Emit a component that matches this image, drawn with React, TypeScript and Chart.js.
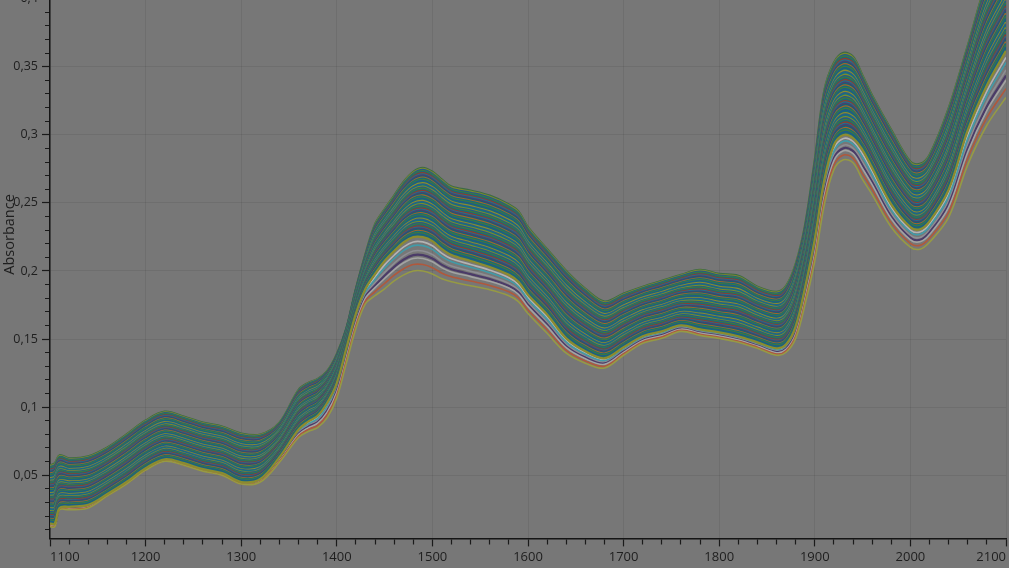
import React, { useEffect, useRef } from 'react';
import { Chart, registerables } from 'chart.js';

Chart.register(...registerables);

// Wavelength grid (nm)
const wavelengths = [
  1100, 1105, 1110, 1120, 1140, 1160, 1180, 1200, 1220, 1240, 1260, 1280, 1300, 1320, 1340,
  1360, 1370, 1380, 1390, 1400, 1410, 1420, 1430, 1440, 1450, 1460, 1470, 1480, 1490, 1500,
  1510, 1520, 1540, 1560, 1580, 1590, 1600, 1620, 1640, 1660, 1680, 1700, 1720, 1740, 1760,
  1780, 1800, 1820, 1840, 1860, 1870, 1880, 1890, 1900, 1910, 1920, 1930, 1940, 1950, 1960,
  1980, 2000, 2010, 2020, 2040, 2060, 2080, 2100,
];

// Upper edge of the spectra bundle (highest spectrum)
const upperEdge = [
  0.0573, 0.0587, 0.0646, 0.0624, 0.0639, 0.0704, 0.0799, 0.0901, 0.0966, 0.093, 0.0886, 0.0857, 0.0806, 0.0799, 0.0886,
  0.1127, 0.1178, 0.1207, 0.1265, 0.1389, 0.1578, 0.1869, 0.2124, 0.2342, 0.2452, 0.2553, 0.2655, 0.2728, 0.2757, 0.2728,
  0.267, 0.2619, 0.259, 0.2553, 0.2488, 0.2437, 0.2321, 0.216, 0.2, 0.1869, 0.1775, 0.1833, 0.1884, 0.1927, 0.1971,
  0.2008, 0.1978, 0.1964, 0.1884, 0.1847, 0.1891, 0.2051, 0.2342, 0.2815, 0.3325, 0.3529, 0.3602, 0.3573, 0.3434, 0.3289,
  0.3034, 0.2801, 0.2786, 0.2852, 0.3194, 0.3653, 0.4126, 0.4417,
];

// Lower edge of the dense part of the bundle
const bandLowerEdge = [
  0.0144, 0.0144, 0.026, 0.0268, 0.0282, 0.0362, 0.045, 0.0551, 0.0617, 0.0588, 0.0544, 0.0515, 0.045, 0.0472, 0.0632,
  0.0835, 0.0894, 0.0937, 0.1032, 0.1177, 0.1432, 0.1687, 0.1869, 0.1978, 0.2073, 0.2146, 0.2211, 0.2248, 0.2248, 0.2219,
  0.216, 0.2117, 0.2073, 0.2029, 0.1971, 0.192, 0.1825, 0.168, 0.1505, 0.141, 0.1359, 0.1439, 0.152, 0.1556, 0.16,
  0.1571, 0.1549, 0.152, 0.1476, 0.1432, 0.1461, 0.1593, 0.1884, 0.2233, 0.267, 0.2925, 0.2998, 0.2976, 0.2888, 0.2757,
  0.2488, 0.2321, 0.2306, 0.2364, 0.2597, 0.3034, 0.3362, 0.3616,
];

// Lowest spectrum
const lowestEdge = [
  0.0122, 0.0122, 0.0246, 0.0246, 0.026, 0.0348, 0.0435, 0.0537, 0.0603, 0.0573, 0.053, 0.05, 0.0435, 0.045, 0.0595,
  0.0777, 0.0821, 0.085, 0.0923, 0.1068, 0.1323, 0.1578, 0.176, 0.1818, 0.1869, 0.1927, 0.1971, 0.2, 0.2, 0.1978,
  0.1942, 0.192, 0.1891, 0.1862, 0.1818, 0.1775, 0.1687, 0.1542, 0.1396, 0.1323, 0.1287, 0.1381, 0.1469, 0.1505, 0.1556,
  0.1527, 0.1505, 0.1476, 0.1432, 0.1381, 0.1403, 0.1505, 0.176, 0.2073, 0.2488, 0.2743, 0.2816, 0.2794, 0.267, 0.2561,
  0.2321, 0.2175, 0.216, 0.2211, 0.2393, 0.2779, 0.307, 0.3274,
];

// Position of each dense-band spectrum between bandLowerEdge (0) and upperEdge (1)
const bandPositions = [
  0.0, 0.018, 0.034, 0.052, 0.068, 0.083, 0.101, 0.118, 0.132, 0.149, 0.166, 0.181, 0.199, 0.214, 0.23, 0.248,
  0.263, 0.279, 0.297, 0.313, 0.329, 0.344, 0.361, 0.379, 0.394, 0.41, 0.426, 0.442, 0.459, 0.475, 0.49, 0.506,
  0.522, 0.539, 0.555, 0.57, 0.586, 0.602, 0.619, 0.634, 0.65, 0.666, 0.682, 0.699, 0.714, 0.73, 0.746, 0.762,
  0.779, 0.795, 0.81, 0.827, 0.843, 0.858, 0.874, 0.89, 0.906, 0.922, 0.938, 0.953, 0.969, 0.985, 1.0,
];

// Position of the separated low spectra between lowestEdge (0) and bandLowerEdge (1)
const outlierPositions = [0.0, 0.19, 0.37, 0.47, 0.59, 0.75, 0.86];

const bandPalette = [
  '#8c8b2f', '#1b6878', '#1f5a88', '#3e7b3b', '#176a79', '#a2662a', '#195f73', '#4d3e70',
  '#22708a', '#8c3d2f', '#1b6878', '#3e7b3b', '#25588a', '#7d8a2c', '#157080', '#2a5f86',
];
const outlierPalette = ['#969a44', '#b0583c', '#a3a3a3', '#4b3b68', '#8d8d94', '#409ba8', '#b3b3b3'];

const xMajorTicks = [1100, 1200, 1300, 1400, 1500, 1600, 1700, 1800, 1900, 2000, 2100];
const yMajorTicks = [0.05, 0.1, 0.15, 0.2, 0.25, 0.3, 0.35, 0.4, 0.45];

const tickFont = { family: "'Liberation Sans Narrow', 'Open Sans', sans-serif", size: 13 };
const textColor = '#1e1e1e';

export default function App() {
  const canvasRef = useRef<HTMLCanvasElement | null>(null);

  useEffect(() => {
    document.body.style.margin = '0';
    document.body.style.background = '#777777';
    document.body.style.overflow = 'hidden';
    const canvas = canvasRef.current;
    if (!canvas) return;

    const datasets: any[] = [];
    bandPositions.forEach((f, i) => {
      datasets.push({
        label: 'band ' + i,
        data: wavelengths.map((w, k) => ({ x: w, y: bandLowerEdge[k] + f * (upperEdge[k] - bandLowerEdge[k]) })),
        borderColor: i === bandPositions.length - 1 ? '#3c6a45' : bandPalette[i % bandPalette.length],
        borderWidth: 2.3,
      });
    });
    outlierPositions.forEach((f, i) => {
      datasets.push({
        label: 'low ' + i,
        data: wavelengths.map((w, k) => ({ x: w, y: lowestEdge[k] + f * (bandLowerEdge[k] - lowestEdge[k]) })),
        borderColor: outlierPalette[i],
        borderWidth: i === 3 ? 2.2 : 1.6,
      });
    });

    const isMajorX = (v: number) => xMajorTicks.some((t) => Math.abs(t - v) < 1e-6);
    const isMajorY = (v: number) => yMajorTicks.some((t) => Math.abs(t - v) < 1e-6);

    const chart = new Chart(canvas, {
      type: 'line',
      data: { datasets },
      options: {
        animation: false,
        responsive: false,
        maintainAspectRatio: false,
        events: [],
        parsing: false,
        layout: { padding: { top: 9.9, left: 0, right: 0, bottom: 0 } },
        plugins: { legend: { display: false }, tooltip: { enabled: false }, title: { display: false } },
        elements: {
          point: { radius: 0 },
          line: { tension: 0.35, borderWidth: 2, fill: false },
        },
        scales: {
          x: {
            type: 'linear',
            min: 1100,
            max: 2100,
            ticks: {
              stepSize: 20,
              autoSkip: false,
              maxRotation: 0,
              minRotation: 0,
              align: 'inner',
              padding: 3,
              color: textColor,
              font: tickFont,
              callback: (v: any) => (isMajorX(Number(v)) ? String(Math.round(Number(v))) : ''),
            },
            grid: {
              drawTicks: true,
              tickLength: 8,
              color: (ctx: any) => (ctx.tick && isMajorX(ctx.tick.value) ? 'rgba(0,0,0,0.075)' : 'rgba(0,0,0,0)'),
              tickColor: '#1a1a1a',
              tickWidth: 1.2,
              tickBorderDash: (ctx: any) => (ctx.tick && isMajorX(ctx.tick.value) ? [] : [5, 100]),
            },
            border: { display: true, color: '#151515', width: 1.5 },
          },
          y: {
            type: 'linear',
            min: 0.0036,
            max: 0.45,
            afterFit: (scale: any) => {
              scale.width = 50;
            },
            title: {
              display: true,
              text: 'Absorbance',
              color: textColor,
              font: { family: "'Open Sans', sans-serif", size: 14.5 },
              padding: { top: 1, bottom: 0 },
            },
            ticks: {
              stepSize: 0.01,
              includeBounds: false,
              autoSkip: false,
              padding: 4,
              color: textColor,
              font: { family: tickFont.family, size: 12.5 },
              callback: (v: any) => {
                const n = Number(v);
                if (!isMajorY(n)) return '';
                return String(Math.round(n * 100) / 100).replace('.', ',');
              },
            },
            grid: {
              drawTicks: true,
              tickLength: 8,
              color: (ctx: any) => (ctx.tick && isMajorY(ctx.tick.value) ? 'rgba(0,0,0,0.075)' : 'rgba(0,0,0,0)'),
              tickColor: '#1a1a1a',
              tickWidth: 1.2,
              tickBorderDash: (ctx: any) => (ctx.tick && isMajorY(ctx.tick.value) ? [] : [0, 3, 5, 100]),
            },
            border: { display: true, color: '#151515', width: 1.5 },
          },
        },
      },
    } as any);

    return () => {
      chart.destroy();
    };
  }, []);

  return (
    <div style={{ position: 'absolute', left: 0, top: -81, width: 1009, height: 649 }}>
      <canvas ref={canvasRef} width={1009} height={649} style={{ display: 'block', width: 1009, height: 649 }} />
    </div>
  );
}
